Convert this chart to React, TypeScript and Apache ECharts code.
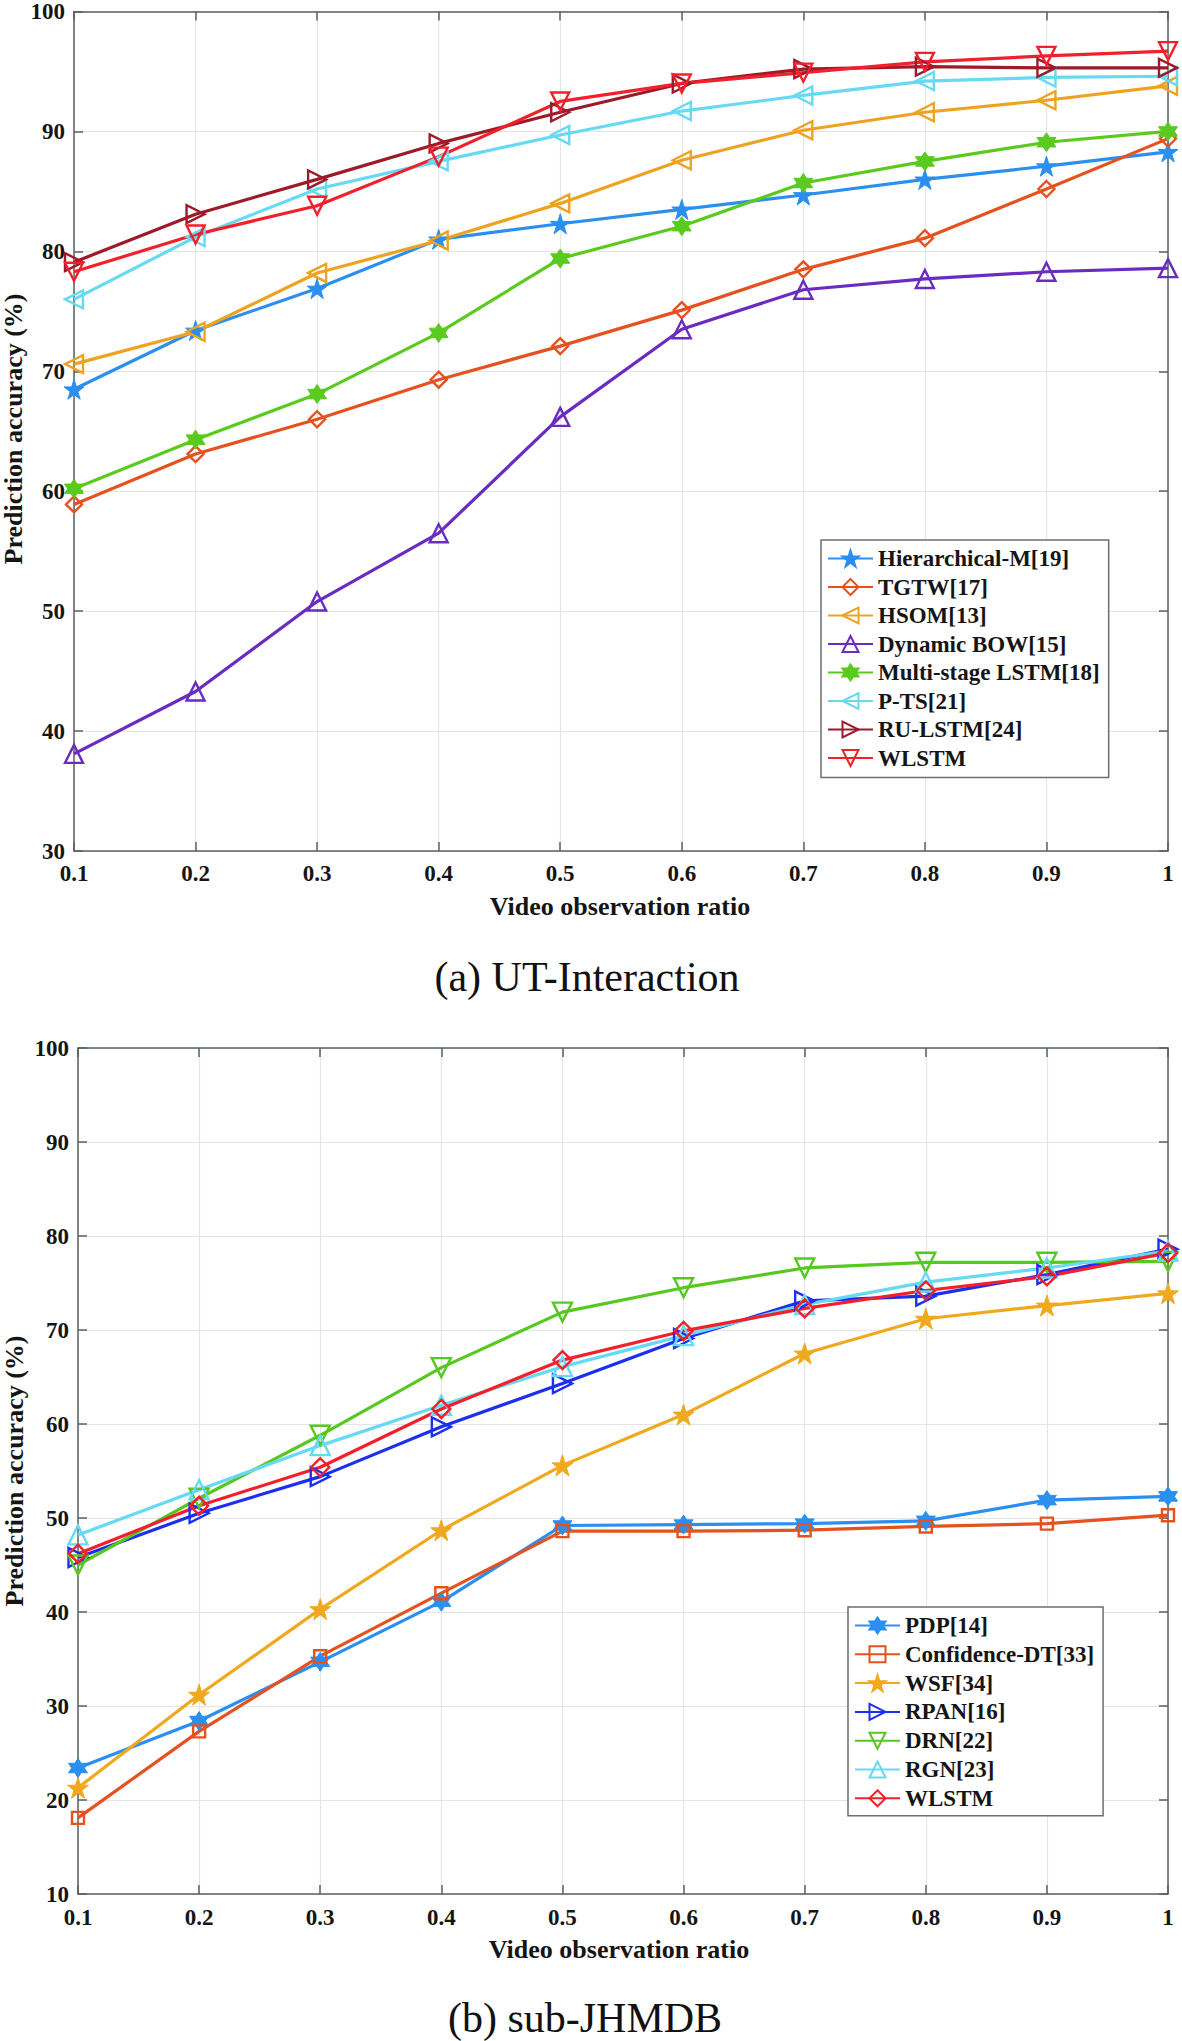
import React, { useEffect, useRef } from "react";
import * as echarts from "echarts";

const ratios = ["0.1", "0.2", "0.3", "0.4", "0.5", "0.6", "0.7", "0.8", "0.9", "1"];

// (a) UT-Interaction
const hierarchicalM = [68.5, 73.4, 76.9, 81.0, 82.3, 83.5, 84.7, 86.0, 87.1, 88.3];
const tgtw = [58.9, 63.1, 66.0, 69.3, 72.1, 75.1, 78.5, 81.1, 85.2, 89.4];
const hsom = [70.6, 73.3, 78.2, 80.9, 84.0, 87.6, 90.1, 91.6, 92.6, 93.8];
const dynamicBow = [38.1, 43.3, 50.8, 56.5, 66.2, 73.5, 76.8, 77.7, 78.3, 78.6];
const multiStageLstm = [60.2, 64.3, 68.1, 73.2, 79.4, 82.1, 85.7, 87.5, 89.1, 90.0];
const pTs = [76.0, 81.2, 85.2, 87.5, 89.7, 91.7, 93.0, 94.2, 94.5, 94.6];
const ruLstm = [79.1, 83.1, 86.0, 89.0, 91.6, 94.0, 95.2, 95.4, 95.3, 95.3];
const wlstmUT = [78.3, 81.4, 83.8, 87.9, 92.5, 94.0, 94.9, 95.8, 96.3, 96.7];

// (b) sub-JHMDB
const pdp = [23.4, 28.4, 34.7, 41.1, 49.2, 49.3, 49.4, 49.7, 51.9, 52.3];
const confidenceDT = [18.1, 27.3, 35.3, 42.0, 48.6, 48.6, 48.7, 49.1, 49.4, 50.3];
const wsf = [21.3, 31.2, 40.3, 48.7, 55.6, 61.0, 67.5, 71.2, 72.6, 73.9];
const rpan = [45.8, 50.5, 54.4, 59.7, 64.3, 69.1, 73.1, 73.6, 75.9, 78.6];
const drn = [45.0, 52.1, 58.8, 66.0, 71.9, 74.5, 76.6, 77.2, 77.2, 77.3];
const rgn = [48.2, 53.0, 57.7, 62.0, 66.1, 69.4, 72.7, 75.1, 76.6, 78.4];
const wlstmJH = [46.2, 51.3, 55.4, 61.6, 66.8, 69.9, 72.3, 74.2, 75.7, 78.2];

const STAR5 =
  "path://M50,0 L61.23,34.55 L97.55,34.55 L68.16,55.9 L79.39,90.45 L50,69.1 L20.61,90.45 L31.84,55.9 L2.45,34.55 L38.77,34.55 Z";
const STAR6 =
  "path://M50,0 L64.43,25 L93.3,25 L78.87,50 L93.3,75 L64.43,75 L50,100 L35.57,75 L6.7,75 L21.13,50 L6.7,25 L35.57,25 Z";

const SERIF = "'Liberation Serif', 'Times New Roman', serif";
const TXT = "#151515";
const AXIS = "#58625f";
const GRIDC = "#e3e6e6";

type Spec = {
  name: string;
  data: number[];
  color: string;
  symbol: string;
  rotate: number;
  size: number;
  filled: boolean;
};

const mkSeries = (s: Spec, idx: number) => ({
  type: "line",
  name: s.name,
  data: s.data,
  xAxisIndex: idx,
  yAxisIndex: idx,
  symbol: s.symbol,
  symbolRotate: s.rotate,
  symbolSize: s.size,
  showSymbol: true,
  lineStyle: { color: s.color, width: 3.2 },
  itemStyle: {
    color: s.filled ? s.color : "rgba(255,255,255,0)",
    borderColor: s.color,
    borderWidth: s.filled ? 1 : 2.4,
  },
  emphasis: { disabled: true },
  z: 3,
});

const utSpecs: Spec[] = [
  { name: "Hierarchical-M[19]", data: hierarchicalM, color: "#2b8ff0", symbol: STAR5, rotate: 0, size: 20, filled: true },
  { name: "TGTW[17]", data: tgtw, color: "#e5521f", symbol: "diamond", rotate: 0, size: 16, filled: false },
  { name: "HSOM[13]", data: hsom, color: "#eda321", symbol: "triangle", rotate: 90, size: 18, filled: false },
  { name: "Dynamic BOW[15]", data: dynamicBow, color: "#6a2cc0", symbol: "triangle", rotate: 0, size: 18, filled: false },
  { name: "Multi-stage LSTM[18]", data: multiStageLstm, color: "#5acb1e", symbol: STAR6, rotate: 0, size: 19, filled: true },
  { name: "P-TS[21]", data: pTs, color: "#66d9f3", symbol: "triangle", rotate: 90, size: 18, filled: false },
  { name: "RU-LSTM[24]", data: ruLstm, color: "#9e1a2a", symbol: "triangle", rotate: -90, size: 18, filled: false },
  { name: "WLSTM", data: wlstmUT, color: "#f2202b", symbol: "triangle", rotate: 180, size: 18, filled: false },
];

const jhSpecs: Spec[] = [
  { name: "PDP[14]", data: pdp, color: "#2b8ff0", symbol: STAR6, rotate: 0, size: 19, filled: true },
  { name: "Confidence-DT[33]", data: confidenceDT, color: "#e5521f", symbol: "rect", rotate: 0, size: 12, filled: false },
  { name: "WSF[34]", data: wsf, color: "#f0a81e", symbol: STAR5, rotate: 0, size: 21, filled: true },
  { name: "RPAN[16]", data: rpan, color: "#1c2ff0", symbol: "triangle", rotate: -90, size: 19, filled: false },
  { name: "DRN[22]", data: drn, color: "#56c820", symbol: "triangle", rotate: 180, size: 19, filled: false },
  { name: "RGN[23]", data: rgn, color: "#66d9f3", symbol: "triangle", rotate: 0, size: 19, filled: false },
  { name: "WLSTM (b)", data: wlstmJH, color: "#f2202b", symbol: "diamond", rotate: 0, size: 18, filled: false },
];

const labelStyle = { fontFamily: SERIF, fontWeight: "bold" as const, fontSize: 23, color: TXT };

const mkXAxes = (grid: number, margin: number) => [
  {
    type: "category",
    gridIndex: grid,
    data: ratios,
    boundaryGap: false,
    position: "bottom",
    axisLine: { show: true, lineStyle: { color: AXIS, width: 1.5 } },
    axisTick: { show: true, inside: true, length: 9, alignWithLabel: true, interval: 0, lineStyle: { color: AXIS, width: 1.5 } },
    axisLabel: { ...labelStyle, margin, interval: 0 },
    splitLine: { show: true, interval: 0, lineStyle: { color: GRIDC, width: 1.2 } },
  },
  {
    type: "category",
    gridIndex: grid,
    data: ratios,
    boundaryGap: false,
    position: "top",
    axisLine: { show: true, lineStyle: { color: AXIS, width: 1.5 } },
    axisTick: { show: true, inside: true, length: 9, interval: 0, lineStyle: { color: AXIS, width: 1.5 } },
    axisLabel: { show: false },
    splitLine: { show: false },
  },
];

const mkYAxes = (grid: number, min: number) => [
  {
    type: "value",
    gridIndex: grid,
    min,
    max: 100,
    interval: 10,
    position: "left",
    axisLine: { show: true, lineStyle: { color: AXIS, width: 1.5 } },
    axisTick: { show: true, inside: true, length: 9, lineStyle: { color: AXIS, width: 1.5 } },
    axisLabel: { ...labelStyle, margin: 9 },
    splitLine: { show: true, lineStyle: { color: GRIDC, width: 1.2 } },
  },
  {
    type: "value",
    gridIndex: grid,
    min,
    max: 100,
    interval: 10,
    position: "right",
    axisLine: { show: true, lineStyle: { color: AXIS, width: 1.5 } },
    axisTick: { show: true, inside: true, length: 9, lineStyle: { color: AXIS, width: 1.5 } },
    axisLabel: { show: false },
    splitLine: { show: false },
  },
];

const legendBase = {
  orient: "vertical",
  itemWidth: 45,
  itemHeight: 20,
  backgroundColor: "#ffffff",
  borderColor: "#6a6f6f",
  borderWidth: 1.5,
  borderRadius: 0,
  textStyle: { fontFamily: SERIF, fontWeight: "bold", fontSize: 23, color: TXT },
  formatter: (n: string) => n.replace(" (b)", ""),
  selectedMode: false,
};

const axisName = (text: string, x: number, y: number, rotate = false) => ({
  type: "text",
  x,
  y,
  rotation: rotate ? Math.PI / 2 : 0,
  style: {
    text,
    fontFamily: SERIF,
    fontWeight: "bold",
    fontSize: 26,
    fill: TXT,
    align: "center",
    verticalAlign: "middle",
  },
});

const caption = (text: string, x: number, y: number) => ({
  type: "text",
  x,
  y,
  style: {
    text,
    fontFamily: SERIF,
    fontWeight: "normal",
    fontSize: 42,
    fill: "#111",
    align: "center",
    verticalAlign: "middle",
  },
});

export default function App() {
  const ref = useRef<HTMLDivElement>(null);

  useEffect(() => {
    if (!ref.current) return;
    const chart = echarts.init(ref.current, undefined, { renderer: "svg" });
    const option: any = {
      animation: false,
      backgroundColor: "#ffffff",
      grid: [
        { left: 74, top: 8, width: 1094, height: 843, show: false },
        { left: 78, top: 1048, width: 1090, height: 846, show: false },
      ],
      xAxis: [...mkXAxes(0, 11), ...mkXAxes(1, 12)],
      yAxis: [...mkYAxes(0, 30), ...mkYAxes(1, 10)],
      legend: [
        {
          ...legendBase,
          left: 821,
          top: 540,
          padding: [7, 9, 8, 6],
          itemGap: 5.5,
          data: utSpecs.map((s) => s.name),
        },
        {
          ...legendBase,
          left: 848,
          top: 1607,
          padding: [7, 9, 6, 6],
          itemGap: 5.8,
          data: jhSpecs.map((s) => s.name),
        },
      ],
      series: [
        ...utSpecs.map((s) => mkSeries(s, 0)),
        ...jhSpecs.map((s) => mkSeries(s, 2)),
      ],
      graphic: [
        axisName("Prediction accuracy (%)", 13, 429, true),
        axisName("Video observation ratio", 620, 906),
        caption("(a) UT-Interaction", 587, 977),
        axisName("Prediction accuracy (%)", 14, 1471, true),
        axisName("Video observation ratio", 619, 1949),
        caption("(b) sub-JHMDB", 585, 2018),
      ],
    };
    chart.setOption(option);
    return () => chart.dispose();
  }, []);

  return (
    <div
      ref={ref}
      style={{ position: "absolute", left: 0, top: 0, width: 1182, height: 2041, background: "#fff" }}
    />
  );
}
